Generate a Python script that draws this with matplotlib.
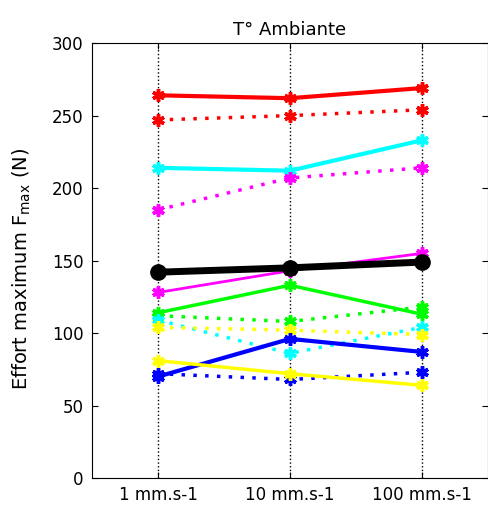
import matplotlib
matplotlib.use('Agg')
import matplotlib.pyplot as plt
import numpy as np

speeds = ['1 mm.s-1', '10 mm.s-1', '100 mm.s-1']

red_solid = [264, 262, 269]
red_dot = [247, 250, 254]
cyan_solid = [214, 212, 233]
magenta_dot = [185, 207, 214]
magenta_solid = [128, 143, 155]
green_solid = [114, 133, 113]
green_dot = [112, 108, 118]
cyan_dot = [109, 86, 104]
yellow_dot = [104, 102, 99]
blue_solid = [70, 96, 87]
blue_dot = [72, 68, 73]
yellow_solid = [81, 72, 64]
mean_black = [142, 145, 149]

# couleur, style, epaisseur
series = [
    (red_solid, '#ff0000', '-', 3),
    (red_dot, '#ff0000', ':', 2.5),
    (cyan_solid, '#00ffff', '-', 3),
    (magenta_dot, '#ff00ff', ':', 2.5),
    (magenta_solid, '#ff00ff', '-', 2),
    (green_solid, '#00ff00', '-', 2.5),
    (green_dot, '#00ff00', ':', 2.5),
    (cyan_dot, '#00ffff', ':', 2.5),
    (yellow_dot, '#ffff00', ':', 2.5),
    (blue_solid, '#0000ff', '-', 3),
    (blue_dot, '#0000ff', ':', 2.5),
    (yellow_solid, '#ffff00', '-', 2.5),
]

plt.rcParams['font.family'] = ['DejaVu Sans']
fig = plt.figure(figsize=(4.89, 5.07), dpi=100)
ax = fig.add_axes([0.188, 0.057, 0.81, 0.858])

x = np.arange(1, len(speeds) + 1)
for vals, c, ls, lw in series:
    line, = ax.plot(x, vals, color=c, linestyle=ls, linewidth=lw, marker=(6, 2, 0),
                    markersize=9, markeredgewidth=2.5, markeredgecolor=c, zorder=3)
    if ls == ':':
        line.set_dashes((1, 2.4))
ax.plot(x, mean_black, color='k', linewidth=5, marker='o', markersize=11,
        markerfacecolor='k', zorder=4)

ax.set_xlim(0.5, 3.5)
ax.set_ylim(0, 300)
ax.set_xticks(x)
ax.set_xticklabels(speeds)
ax.set_yticks(np.arange(0, 301, 50))
ax.xaxis.grid(True, color='k', linestyle=':', linewidth=1)
ax.tick_params(direction='in', top=True, right=True, labelsize=12, length=4, pad=6)
ax.set_title('T° Ambiante', fontsize=13)
ax.set_ylabel('Effort maximum F$_{\\mathrm{max}}$ (N)', fontsize=14)
ax.yaxis.set_label_coords(-0.15, 0.48)

fig.savefig('out.png', dpi=100)
